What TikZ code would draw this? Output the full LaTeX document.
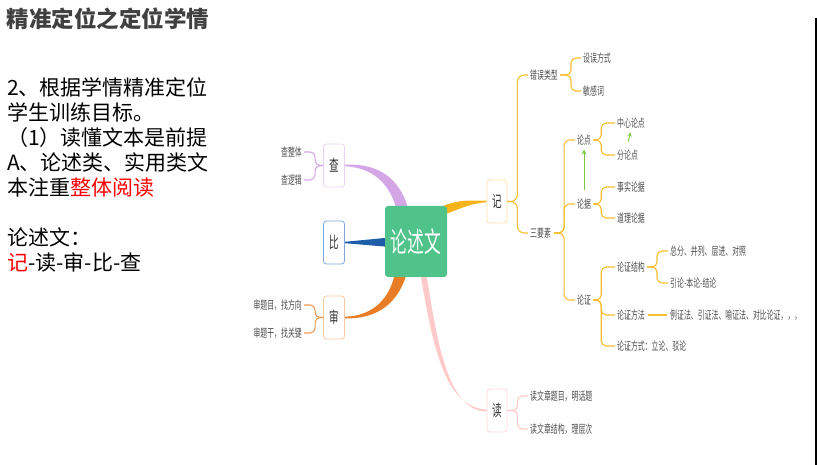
\documentclass[tikz,border=0pt]{standalone}
\usepackage{fontspec}
\setmainfont{Noto Sans CJK SC}
\newfontfamily\mmfont{Noto Sans CJK SC}[FakeStretch=0.6]
\usetikzlibrary{arrows.meta,backgrounds,calc}
\definecolor{titlegray}{HTML}{404040}
\definecolor{txt}{HTML}{4D4D4D}
\definecolor{txtdark}{HTML}{333333}
\definecolor{chaL}{HTML}{D4A6E6}
\definecolor{chaB}{HTML}{EBD3F5}
\definecolor{biL}{HTML}{1E5DA8}
\definecolor{biB}{HTML}{7FA6D4}
\definecolor{shenL}{HTML}{E87D25}
\definecolor{shenB}{HTML}{F7C9A3}
\definecolor{shenBr}{HTML}{EE9A50}
\definecolor{jiL}{HTML}{F6B41A}
\definecolor{jiB}{HTML}{FCE3A6}
\definecolor{jiBr}{HTML}{F8BE30}
\definecolor{duL}{HTML}{FFC9C9}
\definecolor{duB}{HTML}{FFDADA}
\definecolor{cgreen}{HTML}{4FC38A}
\definecolor{arrowgreen}{HTML}{7CC940}
\begin{document}
\begin{tikzpicture}[x=1pt,y=-1pt,
  lbl/.style={font=\mmfont\fontsize{11.5}{12}\selectfont, text=txt, inner sep=0pt, anchor=west},
  lblr/.style={lbl, anchor=east},
  topic/.style={draw, rounded corners=3pt, line width=0.8pt, fill=white, minimum width=21pt, minimum height=43pt, inner sep=0pt, font=\mmfont\fontsize{16}{16}\selectfont, text=txtdark},
  slide/.style={font=\fontsize{21}{25}\selectfont, inner sep=0pt, anchor=base west},
  brace/.style={rounded corners=5pt, line width=1.1pt},
  garrow/.style={draw=arrowgreen, line width=1pt, -{Stealth[length=5pt,width=5pt]}}
]
\useasboundingbox (0,0) rectangle (817,465);

% slide text
\node[slide, font=\fontsize{22.5}{22.5}\selectfont\bfseries, text=titlegray] (t0) at (6.5,28) {精准定位之定位学情};
\node[slide] (t1) at (7,95.5) {2、根据学情精准定位};
\node[slide] (t2) at (7,120.5) {学生训练目标。};
\node[slide] (t3) at (7,145.5) {（1）读懂文本是前提};
\node[slide] (t4) at (7,170.5) {A、论述类、实用类文};
\node[slide] (t5) at (7,195.5) {本注重\textcolor{red}{整体阅读}};
\node[slide] (t6) at (7,245.5) {论述文：};
\node[slide] (t7) at (7,270.5) {\textcolor{red}{记}-读-审-比-查};

% right edge line
\coordinate (rtop) at (816,18);
\coordinate (rbot) at (816,465);
\draw[line width=1.3pt] (rtop) -- (rbot);

% central
\node[fill=cgreen, rounded corners=3pt, minimum width=62pt, minimum height=71pt, inner sep=0pt, text=white, font=\mmfont\fontsize{28}{28}\selectfont] (lsw) at (416,241.5) {论述文};

% main topics
\node[topic, draw=chaB] (cha) at (334,165.5) {查};
\node[topic, draw=biB] (bi) at (334,242.5) {比};
\node[topic, draw=shenB] (shen) at (334,317.5) {审};
\node[topic, draw=jiB, minimum width=20pt] (ji) at (497,201.5) {记};
\node[topic, draw=duB, minimum width=20pt] (du) at (497,410.5) {读};

% left labels
\node[lblr] (chazt) at (302,152) {查整体};
\node[lblr] (chalj) at (302,180) {查逻辑};
\node[lblr] (shen1) at (302,305) {审题目，找方向};
\node[lblr] (shen2) at (302,333) {审题干，找关键};

% right labels
\node[lbl] (cwlx) at (530,75) {错误类型};
\node[lbl] (swfs) at (583,58) {设误方式};
\node[lbl] (mgc) at (583,91) {敏感词};
\node[lbl] (syz) at (530,233) {三要素};
\node[lbl] (ld) at (577,140) {论点};
\node[lbl] (lj) at (577,204) {论据};
\node[lbl] (lz) at (577,300) {论证};
\node[lbl] (zxld) at (617,123) {中心论点};
\node[lbl] (fld) at (617,155) {分论点};
\node[lbl] (sslj) at (617,187) {事实论据};
\node[lbl] (dllj) at (617,218) {道理论据};
\node[lbl] (lzjg) at (617,267) {论证结构};
\node[lbl] (lzff) at (617,315) {论证方法};
\node[lbl] (lzfs) at (617,346) {论证方式：立论、驳论};
\node[lbl] (zf) at (670,251) {总分、并列、层进、对照};
\node[lbl] (yl) at (670,283) {引论-本论-结论};
\node[lbl] (lzf) at (670,315) {例证法、引证法、喻证法、对比论证，，，};
\node[lbl] (du1) at (530,396) {读文章题目，明话题};
\node[lbl] (du2) at (530,429) {读文章结构，理层次};

\begin{scope}[on background layer]
% tapered main connectors
\fill[chaL] ($(cha.east)+(0,-0.8)$) .. controls (378,163) and (401,178) .. (409,212) -- (397,212) .. controls (392,188) and (376,167.5) .. ($(cha.east)+(0,0.8)$) -- cycle;
\fill[biL] ($(bi.east)+(0,-0.7)$) -- (390,237.5) -- (390,247) -- ($(bi.east)+(0,0.7)$) -- cycle;
\fill[shenL] ($(shen.east)+(0,-0.8)$) .. controls (375,316) and (391,296) .. (395,272) -- (407,272) .. controls (400,300) and (380,319.5) .. ($(shen.east)+(0,0.8)$) -- cycle;
\fill[duL] (420,272) .. controls (432,340) and (443,408) .. ($(du.west)+(0,-1)$) -- ($(du.west)+(0,1)$) .. controls (447,411) and (437,340) .. (426,272) -- cycle;
\fill[jiL] (443,206) .. controls (460,199) and (472,200.7) .. ($(ji.west)+(0,-0.8)$) -- ($(ji.west)+(0,0.8)$) .. controls (472,203) and (462,208) .. (443,215) -- cycle;
\end{scope}

% braces
\draw[brace, chaL, shorten >=2pt] (cha.west) -- ++(-8,0) |- (chazt.east);
\draw[brace, chaL, shorten >=2pt] (cha.west) -- ++(-8,0) |- (chalj.east);
\draw[brace, shenBr, shorten >=2pt] (shen.west) -- ++(-8,0) |- (shen1.east);
\draw[brace, shenBr, shorten >=2pt] (shen.west) -- ++(-8,0) |- (shen2.east);

\draw[brace, jiBr, rounded corners=7pt, shorten >=2pt] (ji.east) -- ++(10,0) |- (cwlx.west);
\draw[brace, jiBr, rounded corners=7pt, shorten >=2pt] (ji.east) -- ++(10,0) |- (syz.west);

\draw[brace, jiBr, shorten >=2pt] ($(cwlx.east)+(2,0)$) -- ++(11,0) |- (swfs.west);
\draw[brace, jiBr, shorten >=2pt] ($(cwlx.east)+(2,0)$) -- ++(11,0) |- (mgc.west);

\draw[brace, jiBr, rounded corners=6pt, shorten >=2pt] ($(syz.east)+(3,0)$) -- ++(10,0) |- (ld.west);
\draw[brace, jiBr, rounded corners=6pt, shorten >=2pt] ($(syz.east)+(3,0)$) -- ++(10,0) |- (lj.west);
\draw[brace, jiBr, rounded corners=6pt, shorten >=2pt] ($(syz.east)+(3,0)$) -- ++(10,0) |- (lz.west);

\draw[brace, jiBr, shorten >=2pt] ($(ld.east)+(2,0)$) -- ++(8,0) |- (zxld.west);
\draw[brace, jiBr, shorten >=2pt] ($(ld.east)+(2,0)$) -- ++(8,0) |- (fld.west);
\draw[brace, jiBr, shorten >=2pt] ($(lj.east)+(2,0)$) -- ++(8,0) |- (sslj.west);
\draw[brace, jiBr, shorten >=2pt] ($(lj.east)+(2,0)$) -- ++(8,0) |- (dllj.west);
\draw[brace, jiBr, shorten >=2pt] ($(lz.east)+(2,0)$) -- ++(8,0) |- (lzjg.west);
\draw[brace, jiBr, shorten >=2pt] ($(lz.east)+(2,0)$) -- ++(8,0) |- (lzff.west);
\draw[brace, jiBr, shorten >=2pt] ($(lz.east)+(2,0)$) -- ++(8,0) |- (lzfs.west);

\draw[brace, jiBr, shorten >=2pt] ($(lzjg.east)+(2,0)$) -- ++(10,0) |- (zf.west);
\draw[brace, jiBr, shorten >=2pt] ($(lzjg.east)+(2,0)$) -- ++(10,0) |- (yl.west);
\draw[brace, jiBr, shorten >=3pt, shorten <=3pt] (lzff.east) -- (lzf.west);

\draw[brace, duL, shorten >=2pt] (du.east) -- ++(10,0) |- (du1.west);
\draw[brace, duL, shorten >=2pt] (du.east) -- ++(10,0) |- (du2.west);

% green arrows
\draw[garrow, shorten <=8pt, shorten >=4pt] (lj.north) -- (ld.south);
\coordinate (sa1) at (628,142);
\coordinate (sa2) at (630.5,132.5);
\draw[garrow, line width=0.9pt, -{Stealth[length=4pt,width=4.5pt]}] (sa1) -- (sa2);
\end{tikzpicture}
\end{document}
